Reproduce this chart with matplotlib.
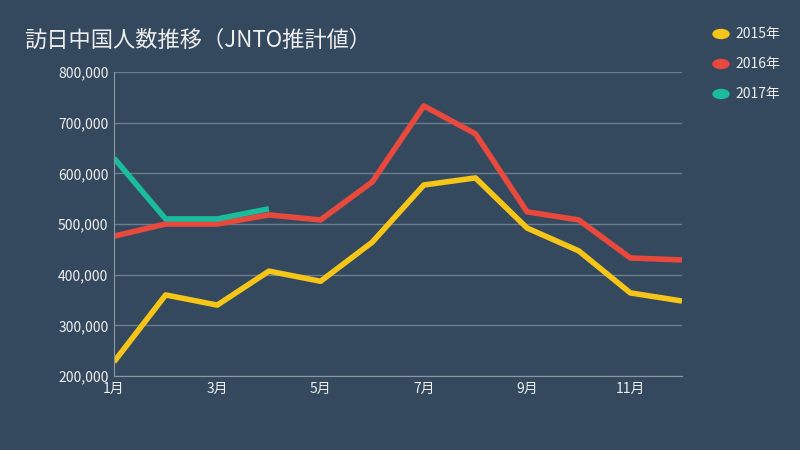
import matplotlib
matplotlib.use("Agg")
import matplotlib.pyplot as plt

plt.rcParams['font.family'] = ['Noto Sans CJK JP', 'DejaVu Sans']

months = list(range(1, 13))
tick_pos = [1, 3, 5, 7, 9, 11]
tick_labels = ["1月", "3月", "5月", "7月", "9月", "11月"]
v2015 = [228000, 360000, 340000, 407000, 387000, 464000, 577000, 591000, 492000, 447000, 364000, 348000]
v2016 = [476000, 500000, 500000, 518000, 508000, 583000, 733000, 678000, 524000, 508000, 433000, 429000]
v2017 = [630000, 510000, 510000, 530000]
series = [("2015年", v2015, "#f5c518"), ("2016年", v2016, "#e8493c"), ("2017年", v2017, "#1abc9c")]

bg = "#35495e"
fig = plt.figure(figsize=(8, 4.5), dpi=100, facecolor=bg)
ax = fig.add_axes([0.1425, 0.1644, 0.71, 0.6756], facecolor=bg)
for name, vals, c in series:
    ax.plot(months[:len(vals)], vals, color=c, lw=4, solid_capstyle='butt', label=name)
ax.set_xlim(1, 12)
ax.set_ylim(200000, 800000)
ax.set_yticks(range(200000, 800001, 100000))
ax.set_yticklabels([f"{v:,}" for v in range(200000, 800001, 100000)])
ax.set_xticks(tick_pos)
ax.set_xticklabels(tick_labels)
ax.tick_params(colors="#eeeeee", labelsize=10, length=0, pad=4)
ax.grid(axis='y', color="#6d7d8e", lw=1)
ax.set_axisbelow(True)
for s in ['top', 'right']:
    ax.spines[s].set_visible(False)
for s in ['left', 'bottom']:
    ax.spines[s].set_color("#8a97a5")
fig.text(0.03, 0.91, "訪日中国人数推移（JNTO推計値）", color="#eeeeee", fontsize=16, va='center')
for i, (name, vals, c) in enumerate(series):
    y = 1 - (34 + 30 * i) / 450
    fig.patches.append(matplotlib.patches.Circle((721 / 800, y), 8 / 800, transform=fig.transFigure,
                                                 color=c, figure=fig))
    fig.text(735 / 800, y, name, color="#eeeeee", fontsize=10, va='center')
fig.savefig("out.png", facecolor=bg)
